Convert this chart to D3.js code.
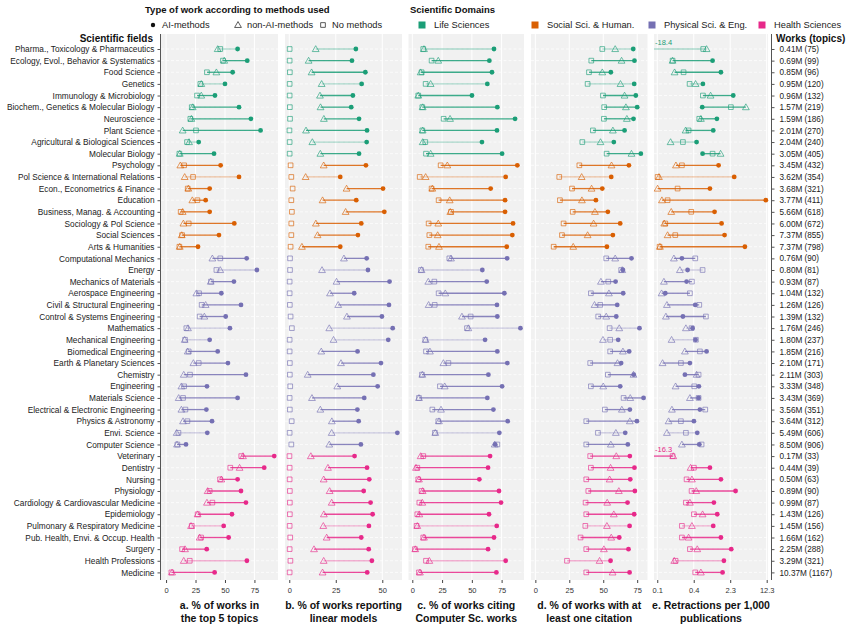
<!DOCTYPE html>
<html>
<head>
<meta charset="utf-8">
<script src="https://cdn.jsdelivr.net/npm/d3@7"></script>
<style>
  body { margin: 0; background: #fff; }
  text { font-family: "Liberation Sans", Arial, sans-serif; }
</style>
</head>
<body>
<div id="chart"></div>
<script>
const fields = [
  "Pharma., Toxicology & Pharmaceutics", "Ecology, Evol., Behavior & Systematics", "Food Science",
  "Genetics", "Immunology & Microbiology", "Biochem., Genetics & Molecular Biology", "Neuroscience",
  "Plant Science", "Agricultural & Biological Sciences", "Molecular Biology",
  "Psychology", "Pol Science & International Relations", "Econ., Econometrics & Finance", "Education",
  "Business, Manag. & Accounting", "Sociology & Pol Science", "Social Sciences", "Arts & Humanities",
  "Computational Mechanics", "Energy", "Mechanics of Materials", "Aerospace Engineering",
  "Civil & Structural Engineering", "Control & Systems Engineering", "Mathematics", "Mechanical Engineering",
  "Biomedical Engineering", "Earth & Planetary Sciences", "Chemistry", "Engineering", "Materials Science",
  "Electrical & Electronic Engineering", "Physics & Astronomy", "Envi. Science", "Computer Science",
  "Veterinary", "Dentistry", "Nursing", "Physiology", "Cardiology & Cardiovascular Medicine", "Epidemiology",
  "Pulmonary & Respiratory Medicine", "Pub. Health, Envi. & Occup. Health", "Surgery", "Health Professions",
  "Medicine"
]
const domainNames = ['Life Sciences', 'Social Sci. & Human.', 'Physical Sci. & Eng.', 'Health Sciences']
const domainColors = ['#1b9e77', '#d95f02', '#7570b3', '#e7298a']
const fieldDomain = [0,0,0,0,0,0,0,0,0,0, 1,1,1,1,1,1,1,1,
  2,2,2,2,2,2,2,2,2,2,2,2,2,2,2,2,2, 3,3,3,3,3,3,3,3,3,3,3]
const works = ['0.41M (75)','0.69M (99)','0.85M (96)','0.95M (120)','0.96M (132)','1.57M (219)','1.59M (186)',
  '2.01M (270)','2.04M (240)','3.05M (405)','3.45M (432)','3.62M (354)','3.68M (321)','3.77M (411)','5.66M (618)',
  '6.00M (672)','7.37M (855)','7.37M (798)','0.76M (90)','0.80M (81)','0.93M (87)','1.04M (132)','1.26M (126)',
  '1.39M (132)','1.76M (246)','1.80M (237)','1.85M (216)','2.10M (171)','2.11M (303)','3.33M (348)','3.43M (369)',
  '3.56M (351)','3.64M (312)','5.49M (606)','8.50M (906)','0.17M (33)','0.44M (39)','0.50M (63)','0.89M (90)',
  '0.99M (87)','1.43M (126)','1.45M (156)','1.66M (162)','2.25M (288)','3.29M (321)','10.37M (1167)']
// rows drawn with a faint connecting line
const faintRows = [0, 3, 8, 11, 19, 24, 25, 33, 41, 44]

// a. % of works in the top 5 topics
const aAI = [60.7,68.9,56.5,50.0,41.5,61.9,72.0,80.2,27.7,40.7, 46.3,61.9,37.0,33.6,37.0,57.9,44.9,27.1,
  68.4,77.1,57.6,46.9,63.6,50.6,54.2,37.0,43.8,52.5,67.8,34.7,60.7,34.2,39.0,35.0,16.9,
  91.8,83.3,60.7,63.6,67.8,55.9,48.9,53.1,34.5,68.6,41.2]
const aNon = [43.8,49.4,42.7,29.9,29.9,22.6,21.5,14.1,19.5,11.6, 12.1,15.8,18.9,22.3,14.1,14.7,13.3,11.6,
  39.3,46.0,37.9,25.7,33.6,32.5,18.6,15.8,18.4,23.2,15.0,13.0,10.7,13.0,14.4,9.0,9.3,
  65.3,62.4,46.9,35.3,34.7,26.8,21.2,28.5,16.1,15.0,5.1]
const aNone = [46.0,48.3,34.7,29.1,26.3,21.8,20.6,25.4,17.8,11.3, 15.3,22.9,18.4,26.6,12.4,19.2,13.6,11.3,
  46.0,42.7,38.1,28.0,30.2,28.5,17.2,16.1,19.2,27.7,20.3,15.3,14.4,16.4,18.1,10.5,9.6,
  63.8,54.5,45.8,37.0,39.3,26.8,21.8,29.7,13.6,20.1,4.5]
// b. % of works reporting linear models
const bAI = [35.8,33.7,40.9,38.9,34.2,33.3,37.5,41.8,41.6,37.5, 41.2,27.4,50.4,36.0,51.1,38.7,36.9,27.4,
  41.6,42.3,53.9,34.9,53.6,49.8,55.6,53.2,36.7,49.3,45.2,47.5,40.3,36.6,37.3,58.1,38.5,
  35.1,41.8,43.0,40.0,43.7,44.8,42.8,38.7,42.7,44.4,41.9]
const bNon = [14.2,10.4,12.0,17.4,16.5,16.8,18.6,9.0,12.4,16.7, 18.5,8.8,30.8,17.9,30.3,14.3,15.2,6.8,
  29.4,17.6,25.4,21.9,26.3,31.0,21.5,23.8,17.2,27.8,9.9,25.8,12.2,16.7,22.9,22.8,21.5,
  11.6,20.8,18.5,21.7,22.8,18.6,18.3,20.1,13.3,18.5,17.9]
const bNone = [0.2,0.2,0.3,0.2,0.2,0.3,0.4,0.1,0.2,0.2, 0.7,1.1,1.8,1.1,1.4,1.1,1.1,0.7,
  0.4,0.4,0.2,0.2,0.3,0.7,1.4,0.2,0.2,0.3,0.3,0.5,0.2,0.3,1.3,0.2,1.1,
  0.1,0.2,0.2,0.3,0.3,0.3,0.2,0.5,0.2,0.6,0.2]
// c. % of works citing Computer Sc. works
const cAI = [68.6,64.7,66.9,63.0,50.1,71.4,86.3,71.1,58.5,75.4, 88.2,78.4,65.8,77.9,77.9,84.6,84.0,79.3,
  79.6,58.8,62.5,77.3,71.1,71.4,90.8,61.1,71.4,79.8,63.9,75.4,63.0,68.1,80.1,73.1,69.5,
  65.3,63.6,56.3,72.8,74.5,64.4,70.9,68.6,63.6,78.4,70.6]
const cNon = [9.8,21.8,7.0,15.4,5.0,8.7,31.7,8.7,8.7,15.4, 29.4,11.2,16.8,31.4,31.9,21.8,21.3,22.4,
  32.5,7.8,13.4,27.7,13.7,41.7,47.1,11.2,14.8,26.1,8.4,27.2,5.6,24.1,22.4,19.3,69.2,
  7.0,3.1,5.6,8.7,8.4,5.9,4.2,9.8,2.5,14.3,6.4]
const cNone = [9.2,16.2,7.8,11.2,5.0,8.4,26.3,8.4,10.9,11.5, 23.8,6.2,16.2,22.1,32.5,13.7,14.3,13.4,
  31.1,7.3,18.5,22.1,18.8,49.0,45.9,10.9,11.5,30.3,8.1,23.2,5.6,16.8,21.8,19.0,71.4,
  9.2,4.2,5.0,7.8,5.9,4.2,3.6,9.2,2.2,11.5,5.6]
// d. % of works with at least one citation
const dAI = [72.1,73.0,55.6,72.8,74.0,75.0,72.3,65.7,57.8,77.7, 68.9,55.9,49.3,44.6,53.4,62.5,57.1,52.7,
  70.8,64.5,59.1,64.7,60.3,59.6,76.7,61.0,69.1,63.2,72.5,62.5,79.7,69.6,74.8,66.2,68.1,
  69.6,73.0,69.9,73.3,67.9,72.8,69.4,61.8,68.6,55.4,69.4]
const dNon = [58.8,63.5,49.3,62.7,65.7,66.7,67.4,57.1,48.0,70.8, 56.1,34.1,41.4,34.3,43.9,42.9,38.5,27.9,
  58.8,64.0,48.3,54.2,43.6,52.2,61.8,49.8,64.5,60.5,72.3,50.0,69.9,63.7,69.6,59.3,55.6,
  59.6,55.4,54.7,61.5,52.9,57.8,52.7,55.9,50.5,47.3,56.9]
const dNone = [49.3,41.2,39.5,38.5,49.8,50.7,50.5,42.4,34.6,52.5, 32.4,17.6,27.0,18.1,27.5,20.8,19.6,13.5,
  52.2,63.2,53.7,40.9,47.8,46.3,54.7,55.1,55.1,40.4,53.4,40.9,65.0,51.2,37.5,46.1,37.5,
  40.4,40.9,37.5,39.0,37.0,37.5,36.8,33.3,37.5,23.3,37.5]
// e. Retractions per 1,000 publications (natural log)
const eAI = [-18.4,0.022,0.405,-0.422,0.972,-0.453,0.221,0.053,-0.713,-0.437, 0.298,1.017,-0.1,2.47,0.114,0.436,0.573,1.508,
  -1.387,-1.126,-1.172,-2.152,-0.774,-1.341,-0.897,-0.759,-0.253,-1.019,-1.249,-0.606,-0.621,-0.56,-0.835,-0.682,-0.59,
  -16.3,-0.1,0.405,1.079,0.083,0.237,0.053,0.405,0.88,0.543,0.482]
const eNon = [-0.253,-1.816,-1.724,-0.759,-0.07,1.553,-0.514,-1.218,-1.907,0.39, -1.662,-2.443,-2.505,-2.306,-1.877,-2.198,-2.045,-2.398,
  -1.754,-1.479,-2.214,-2.321,-2.076,-2.122,-1.203,-1.862,-1.249,-2.275,-0.713,-1.678,-1.019,-1.846,-2.0,-2.076,-1.387,
  -1.785,-0.989,-0.927,-0.728,-1.019,-0.437,-0.927,-1.08,-0.682,-1.739,-0.514]
const eNone = [-0.407,-1.816,-1.31,-1.034,-0.422,0.864,-0.59,-1.08,-1.341,0.022, -1.387,-2.505,-1.586,-2.045,-0.958,-2.152,-1.693,-2.413,
  -0.774,-0.437,-0.927,-1.019,-0.59,-0.284,-0.942,-0.744,-0.56,-1.433,-0.621,-0.82,-0.621,-0.315,-1.433,-1.203,-0.483,
  -1.816,-0.836,-1.172,-0.942,-1.203,-0.836,-1.387,-1.387,-1.019,-1.678,-0.774]
const eTicks = [-2.52, -0.844, 0.833, 2.51]

const panels = [
  { title: ['a. % of works in', 'the top 5 topics'], ai: aAI, non: aNon, none: aNone,
    range: [161, 278], domain: [-4.3, 95], ticks: [0, 25, 50, 75], fmt: d => d, lineAll: true },
  { title: ['b. % of works reporting', 'linear models'], ai: bAI, non: bNon, none: bNone,
    range: [285, 402], domain: [-2.3, 60.6], ticks: [0, 25, 50], fmt: d => d, lineAll: false },
  { title: ['c. % of works citing', 'Computer Sc. works'], ai: cAI, non: cNon, none: cNone,
    range: [408.5, 524], domain: [-3.2, 93.8], ticks: [0, 25, 50, 75], fmt: d => d, lineAll: true },
  { title: ['d. % of works with at', 'least one citation'], ai: dAI, non: dNon, none: dNone,
    range: [531, 647.5], domain: [-3.2, 82.6], ticks: [0, 25, 50, 75], fmt: d => d, lineAll: true },
  { title: ['e. Retractions per 1,000', 'publications'], ai: eAI, non: eNon, none: eNone,
    range: [654, 768], domain: [-2.67, 2.57], ticks: eTicks, fmt: d => Math.exp(d).toFixed(1), lineAll: true }
]

const width = 851, height = 629
const panelTop = 34, panelBottom = 580
const svg = d3.select('#chart').append('svg')
  .attr('width', width).attr('height', height)

const y = d3.scalePoint().domain(d3.range(fields.length)).range([49, 572.4])
const color = i => domainColors[fieldDomain[i]]

const triangle = d3.symbol().type(d3.symbolTriangle).size(20)
const square = d3.symbol().type(d3.symbolSquare).size(22)

panels.forEach(p => {
  const x = d3.scaleLinear().domain(p.domain).range(p.range)
  const g = svg.append('g')

  g.append('rect')
    .attr('x', p.range[0]).attr('y', panelTop)
    .attr('width', p.range[1] - p.range[0]).attr('height', panelBottom - panelTop)
    .attr('fill', '#f1f1f1')

  g.selectAll('.vgrid').data(p.ticks).join('line')
    .attr('x1', d => x(d)).attr('x2', d => x(d))
    .attr('y1', panelTop).attr('y2', panelBottom)
    .attr('stroke', '#fff').attr('stroke-width', 1)

  g.selectAll('.hgrid').data(fields).join('line')
    .attr('x1', p.range[0]).attr('x2', p.range[1])
    .attr('y1', (d, i) => y(i)).attr('y2', (d, i) => y(i))
    .attr('stroke', '#fff').attr('stroke-width', 0.7)
    .attr('stroke-dasharray', '3,2')

  const rows = fields.map((f, i) => {
    const vals = p.lineAll ? [p.ai[i], p.non[i], p.none[i]] : [p.ai[i], p.non[i]]
    return { i, lo: d3.min(vals), hi: d3.max(vals), ai: p.ai[i], non: p.non[i], none: p.none[i] }
  })
  const cx = v => Math.max(p.range[0], x(v))

  g.selectAll('.seg').data(rows).join('line')
    .attr('x1', d => cx(d.lo)).attr('x2', d => cx(d.hi))
    .attr('y1', d => y(d.i)).attr('y2', d => y(d.i))
    .attr('stroke', d => color(d.i))
    .attr('stroke-width', 1.3)
    .attr('stroke-opacity', d => faintRows.includes(d.i) ? 0.35 : 0.85)

  // off-scale values, printed at the left edge
  g.selectAll('.off').data(rows.filter(d => d.ai < p.domain[0])).join('text')
    .attr('x', p.range[0] + 1).attr('y', d => y(d.i) - 4)
    .attr('font-size', 7.5).attr('fill', d => color(d.i))
    .text(d => d.ai.toFixed(1))

  g.selectAll('.none').data(rows).join('path')
    .attr('d', square)
    .attr('transform', d => `translate(${x(d.none)},${y(d.i)})`)
    .attr('fill', 'none').attr('stroke', d => color(d.i))
    .attr('stroke-width', 0.9).attr('stroke-opacity', 0.7)

  g.selectAll('.non').data(rows).join('path')
    .attr('d', triangle)
    .attr('transform', d => `translate(${x(d.non)},${y(d.i) + 0.6})`)
    .attr('fill', 'none').attr('stroke', d => color(d.i))
    .attr('stroke-width', 0.9).attr('stroke-opacity', 0.7)

  g.selectAll('.ai').data(rows.filter(d => d.ai >= p.domain[0])).join('circle')
    .attr('cx', d => x(d.ai)).attr('cy', d => y(d.i))
    .attr('r', 2.4).attr('fill', d => color(d.i))

  const xAxis = g.append('g')
    .attr('transform', `translate(0, ${panelBottom})`)
    .call(d3.axisBottom(x).tickValues(p.ticks).tickSize(3).tickFormat(p.fmt))
  xAxis.select('.domain').remove()
  xAxis.selectAll('line').attr('stroke', '#444')
  xAxis.selectAll('text').attr('font-size', 7.5).attr('fill', '#333')
    .attr('font-family', '"Liberation Sans", Arial, sans-serif').attr('dy', '0.95em')

  const cxm = (p.range[0] + p.range[1]) / 2
  g.selectAll('.ttl').data(p.title).join('text')
    .attr('x', cxm).attr('y', (d, i) => 609 + i * 12.5)
    .attr('text-anchor', 'middle')
    .attr('font-size', 10.5).attr('font-weight', 'bold').attr('fill', '#111')
    .text(d => d)
})

// left axis: scientific fields
const yLeft = svg.append('g')
  .attr('transform', 'translate(160.5, 0)')
  .call(d3.axisLeft(y).tickSize(3).tickSizeOuter(0).tickFormat(i => fields[i]))
yLeft.select('.domain').attr('d', `M0,${panelTop}V${panelBottom}`).attr('stroke', '#555')
yLeft.selectAll('line').attr('stroke', '#555')
yLeft.selectAll('text').attr('font-size', 8.3).attr('fill', '#222')
  .attr('font-family', '"Liberation Sans", Arial, sans-serif').attr('x', -6)

// right axis: works (topics)
const yRight = svg.append('g')
  .attr('transform', 'translate(771.5, 0)')
  .call(d3.axisRight(y).tickSize(3).tickSizeOuter(0).tickFormat(i => works[i]))
yRight.select('.domain').attr('d', `M0,${panelTop}V${panelBottom}`).attr('stroke', '#555')
yRight.selectAll('line').attr('stroke', '#555')
yRight.selectAll('text').attr('font-size', 8.2).attr('fill', '#222')
  .attr('font-family', '"Liberation Sans", Arial, sans-serif').attr('x', 8)

svg.append('text').attr('x', 153).attr('y', 41.5).attr('text-anchor', 'end')
  .attr('font-size', 10).attr('font-weight', 'bold').attr('fill', '#111').text('Scientific fields')
svg.append('text').attr('x', 776).attr('y', 41.5)
  .attr('font-size', 10).attr('font-weight', 'bold').attr('fill', '#111').text('Works (topics)')

// legends
const legend = svg.append('g')
legend.append('text').attr('x', 145).attr('y', 13).attr('font-size', 9.5)
  .attr('font-weight', 'bold').attr('fill', '#111').text('Type of work according to methods used')
legend.append('text').attr('x', 410).attr('y', 13).attr('font-size', 9.5)
  .attr('font-weight', 'bold').attr('fill', '#111').text('Scientific Domains')

const methodItems = [
  { label: 'AI-methods', x: 153, shape: 'dot' },
  { label: 'non-AI-methods', x: 238, shape: 'tri' },
  { label: 'No methods', x: 323, shape: 'sq' }
]
const ly = 25
methodItems.forEach(m => {
  if (m.shape === 'dot') {
    legend.append('circle').attr('cx', m.x).attr('cy', ly).attr('r', 2.2).attr('fill', '#111')
  } else {
    legend.append('path').attr('d', m.shape === 'tri' ? triangle : square)
      .attr('transform', `translate(${m.x},${ly + (m.shape === 'tri' ? 0.5 : 0)})`)
      .attr('fill', 'none').attr('stroke', '#333').attr('stroke-width', 0.8)
  }
  legend.append('text').attr('x', m.x + 9).attr('y', ly).attr('dy', '0.35em')
    .attr('font-size', 9.3).attr('fill', '#222').text(m.label)
})
const domainX = [422, 535, 652, 762]
domainNames.forEach((d, i) => {
  legend.append('rect').attr('x', domainX[i] - 3.5).attr('y', ly - 3.5)
    .attr('width', 7).attr('height', 7).attr('fill', domainColors[i])
  legend.append('text').attr('x', domainX[i] + 12).attr('y', ly).attr('dy', '0.35em')
    .attr('font-size', 9.3).attr('fill', '#222').text(d)
})
</script>
</body>
</html>
